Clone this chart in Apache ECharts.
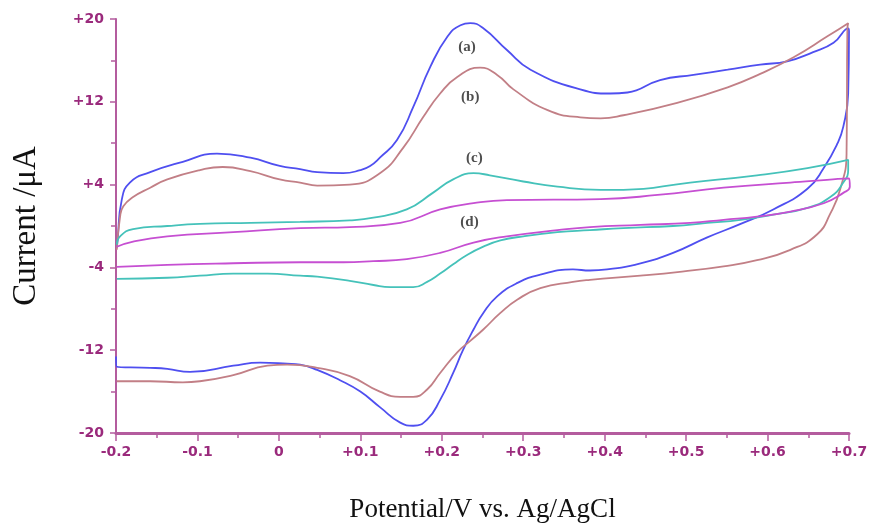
<!DOCTYPE html>
<html>
<head>
<meta charset="utf-8">
<script src="https://cdn.jsdelivr.net/npm/echarts@6/dist/echarts.min.js"></script>
<style>
html,body{margin:0;padding:0;background:#fff;}
#chart{width:869px;height:524px;}
</style>
</head>
<body>
<div id="chart"></div>
<script>
// ---- data (potential in V vs Ag/AgCl, current in µA) ----
const potentialA = [-0.199,-0.198,-0.193,-0.183,-0.158,-0.118,-0.076,-0.035,0.001,0.026,0.047,0.079,0.100,0.112,0.124,0.145,0.165,0.186,0.207,0.223,0.235,0.251,0.280,0.309,0.370,0.407,0.428,0.468,0.509,0.551,0.591,0.624,0.656,0.681,0.699,0.700,0.699,0.693,0.686,0.669,0.649,0.607,0.567,0.526,0.484,0.444,0.403,0.382,0.361,0.321,0.293,0.268,0.251,0.239,0.226,0.214,0.198,0.182,0.165,0.149,0.124,0.100,0.075,0.047,0.026,0.010,-0.023,-0.056,-0.109,-0.137,-0.158,-0.199,-0.200];
const currentA = [-2.1,-1.3,2.5,4.2,5.2,6.2,7.0,6.6,5.8,5.5,5.2,5.1,5.4,5.8,6.6,8.3,11.5,15.4,18.3,19.4,19.6,19.1,17.0,15.1,13.2,12.8,12.9,14.1,14.6,15.1,15.6,15.9,16.8,17.7,19.1,18.8,12.8,9.6,8.0,5.6,3.6,1.6,0.2,-1.1,-2.6,-3.6,-4.2,-4.3,-4.2,-4.7,-5.5,-6.8,-8.4,-10.0,-12.0,-14.2,-16.8,-18.7,-19.3,-19.0,-17.5,-16.0,-14.9,-13.9,-13.4,-13.3,-13.2,-13.5,-14.1,-13.8,-13.7,-13.6,-12.6];

const potentialB = [-0.199,-0.195,-0.191,-0.179,-0.158,-0.137,-0.097,-0.069,-0.035,0.001,0.026,0.047,0.087,0.124,0.153,0.177,0.198,0.219,0.247,0.268,0.288,0.330,0.370,0.395,0.423,0.489,0.551,0.591,0.632,0.673,0.699,0.698,0.697,0.689,0.677,0.661,0.628,0.587,0.546,0.495,0.444,0.382,0.361,0.321,0.293,0.272,0.251,0.235,0.219,0.198,0.182,0.165,0.149,0.124,0.087,0.047,0.010,-0.014,-0.056,-0.097,-0.118,-0.158,-0.199];
const currentB = [-2.3,0.9,1.9,2.8,3.7,4.5,5.4,5.7,5.3,4.5,4.2,3.9,4.0,5.1,7.6,10.5,12.8,14.4,15.3,14.6,13.2,11.2,10.5,10.4,10.7,11.9,13.4,14.7,16.3,18.3,19.6,19.0,7.0,3.5,1.2,-0.8,-2.3,-3.3,-3.9,-4.4,-4.8,-5.2,-5.4,-6.0,-7.1,-8.4,-10.0,-11.1,-12.2,-14.2,-15.8,-16.5,-16.5,-16.0,-14.5,-13.7,-13.4,-13.5,-14.4,-15.0,-15.1,-15.0,-15.0];

const potentialC = [-0.199,-0.195,-0.179,-0.137,-0.097,-0.035,0.026,0.087,0.116,0.157,0.189,0.214,0.239,0.259,0.300,0.342,0.395,0.423,0.505,0.587,0.649,0.699,0.699,0.693,0.677,0.649,0.607,0.567,0.526,0.484,0.423,0.382,0.342,0.300,0.272,0.251,0.231,0.214,0.198,0.182,0.165,0.137,0.116,0.087,0.047,0.026,-0.014,-0.056,-0.097,-0.137,-0.199];
const currentC = [-1.8,-1.0,-0.3,0.0,0.2,0.3,0.4,0.55,0.8,1.6,3.2,4.5,5.1,4.9,4.3,3.8,3.5,3.5,4.2,4.9,5.6,6.4,5.4,4.2,2.8,1.75,1.1,0.6,0.3,0.0,-0.2,-0.4,-0.6,-1.0,-1.4,-2.0,-2.8,-3.7,-4.6,-5.4,-5.9,-5.9,-5.7,-5.3,-4.9,-4.8,-4.6,-4.6,-4.8,-5.0,-5.1];

const potentialD = [-0.199,-0.179,-0.137,-0.056,0.026,0.087,0.149,0.198,0.239,0.280,0.395,0.465,0.546,0.628,0.700,0.701,0.693,0.669,0.628,0.587,0.546,0.505,0.444,0.382,0.342,0.280,0.239,0.198,0.157,0.116,0.079,0.026,-0.056,-0.137,-0.199];
const currentD = [-2.0,-1.5,-1.0,-0.6,-0.2,-0.1,0.3,1.6,2.2,2.5,2.6,3.0,3.7,4.2,4.6,3.8,3.2,2.2,1.4,0.9,0.6,0.3,0.1,-0.1,-0.4,-1.0,-1.6,-2.6,-3.2,-3.4,-3.5,-3.5,-3.6,-3.75,-3.95];

const curveNames = ['(a)','(b)','(c)','(d)'];
const labelPotential = [0.231,0.235,0.240,0.234];
const labelCurrent = [17.3,12.5,6.6,0.4];

const xTicks = [-0.2,-0.1,0,0.1,0.2,0.3,0.4,0.5,0.6,0.7];
const xTickLabels = ['-0.2','-0.1','0','+0.1','+0.2','+0.3','+0.4','+0.5','+0.6','+0.7'];
const yTicks = [-20,-12,-4,4,12,20];
const yTickLabels = ['-20','-12','-4','+4','+12','+20'];

// ---- build ----
const zip = (xs, ys) => xs.map((x, i) => [x, ys[i]]);
const colors = ['#4f4ff0','#c27f86','#45c2ba','#c64fd2'];
const curves = [[potentialA,currentA],[potentialB,currentB],[potentialC,currentC],[potentialD,currentD]];

function lookup(ticks, labels, v){
  for (let i=0;i<ticks.length;i++){ if (Math.abs(ticks[i]-v) < 1e-6) return labels[i]; }
  return '';
}

const axisColor = '#b45c9e';
const labelColor = '#9a2a7c';

const series = curves.map((c, i) => ({
  type: 'line',
  name: curveNames[i],
  data: zip(c[0], c[1]),
  showSymbol: false,
  smooth: 0.5,
  lineStyle: { color: colors[i], width: 1.8 },
  z: 3
}));

series.push({
  type: 'scatter',
  data: zip(labelPotential, labelCurrent).map((p, i) => ({ value: p, name: curveNames[i] })),
  symbolSize: 1,
  itemStyle: { color: 'rgba(0,0,0,0)' },
  label: {
    show: true,
    position: 'inside',
    formatter: p => p.name,
    fontFamily: 'Liberation Serif',
    fontWeight: 'bold',
    fontSize: 15,
    color: '#222222'
  },
  z: 5
});

const chart = echarts.init(document.getElementById('chart'), null, { renderer: 'canvas' });
chart.setOption({
  animation: false,
  backgroundColor: '#ffffff',
  grid: { left: 116, right: 20, top: 19, bottom: 91, containLabel: false, outerBoundsMode: 'none' },
  xAxis: {
    type: 'value',
    min: -0.2, max: 0.7, interval: 0.1,
    name: 'Potential/V vs. Ag/AgCl',
    nameLocation: 'middle',
    nameGap: 63,
    nameTextStyle: { fontFamily: 'Liberation Serif', fontSize: 27, color: '#111' },
    axisLine: { onZero: false, lineStyle: { color: axisColor, width: 3 } },
    axisTick: { show: true, inside: false, length: 8, lineStyle: { color: axisColor, width: 1.5 } },
    minorTick: { show: true, splitNumber: 2, length: 5, lineStyle: { color: axisColor, width: 1.5 } },
    axisLabel: {
      margin: 12,
      fontFamily: 'DejaVu Sans', fontWeight: 'bold', fontSize: 14, color: labelColor,
      formatter: v => lookup(xTicks, xTickLabels, v)
    },
    splitLine: { show: false }
  },
  yAxis: {
    type: 'value',
    min: -20, max: 20, interval: 8,
    name: 'Current /μA',
    nameLocation: 'middle',
    nameRotate: 90,
    nameGap: 73,
    nameTextStyle: { fontFamily: 'Liberation Serif', fontSize: 33, color: '#111' },
    axisLine: { onZero: false, lineStyle: { color: axisColor, width: 2 } },
    axisTick: { show: true, inside: false, length: 6, lineStyle: { color: axisColor, width: 1.5 } },
    minorTick: { show: true, splitNumber: 2, length: 5, lineStyle: { color: axisColor, width: 1.5 } },
    axisLabel: {
      margin: 12,
      fontFamily: 'DejaVu Sans', fontWeight: 'bold', fontSize: 14, color: labelColor,
      formatter: v => lookup(yTicks, yTickLabels, v)
    },
    splitLine: { show: false }
  },
  series: series
});
</script>
</body>
</html>
